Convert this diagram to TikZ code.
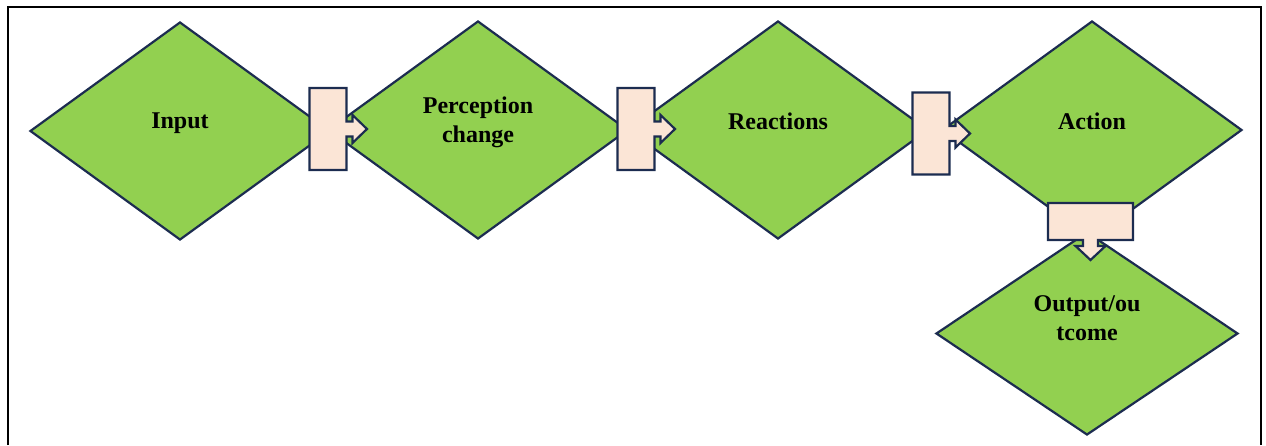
\documentclass[tikz,border=0pt]{standalone}
\usepackage{fontspec}
\setmainfont{Liberation Serif}
\usetikzlibrary{shapes.geometric}
\definecolor{leafgreen}{RGB}{146,208,80}
\definecolor{navyline}{RGB}{28,44,80}
\definecolor{peach}{RGB}{251,229,214}
\tikzset{
  stage/.style={shape=diamond, draw=navyline, fill=leafgreen, line width=2.2pt,
    minimum width=300pt, minimum height=218pt, inner sep=0pt},
  stagetext/.style={font=\fontsize{24}{29}\selectfont\bfseries, align=center},
  conn/.style={draw=navyline, fill=peach, line width=2.2pt, line join=miter},
  rblock/.pic={\path[conn] (-18.5,-41) -- (18.5,-41) -- (18.5,-7.5) -- (24.5,-7.5)
    -- (24.5,-14) -- (39,0) -- (24.5,14) -- (24.5,7.5) -- (18.5,7.5)
    -- (18.5,41) -- (-18.5,41) -- cycle;},
  dblock/.pic={\path[conn] (-42.5,18.5) -- (42.5,18.5) -- (42.5,-18.5) -- (7.5,-18.5)
    -- (7.5,-24.5) -- (15,-24.5) -- (0,-38.5) -- (-15,-24.5) -- (-7.5,-24.5)
    -- (-7.5,-18.5) -- (-42.5,-18.5) -- cycle;}
}

\begin{document}
\begin{tikzpicture}[x=1pt,y=1pt]
\useasboundingbox (0,0) rectangle (1266,445);
\draw[line width=2pt] (8,0) -- (8,438) -- (1261,438) -- (1261,0);

\node[stage] (input) at (180,314) {};
\node[stage] (percep) at (478,315) {};
\node[stage] (react) at (778,315) {};
\node[stage] (action) at (1092,315) {};
\node[stage, minimum width=302pt, minimum height=203pt] (output) at (1087,111.5) {};

\node[stagetext] (input-t) at ([yshift=8pt]input.center) {Input};
\node[stagetext] (percep-t) at ([yshift=8pt]percep.center) {Perception\\change};
\node[stagetext] (react-t) at ([yshift=9pt]react.center) {Reactions};
\node[stagetext] (action-t) at ([yshift=9pt]action.center) {Action};
\node[stagetext] (output-t) at ([yshift=15pt]output.center) {Output/ou\\tcome};

\pic at (328,316) {rblock};
\pic at (636,316) {rblock};
\pic at (931,311.5) {rblock};
\pic at (1090.5,223.5) {dblock};
\end{tikzpicture}
\end{document}
